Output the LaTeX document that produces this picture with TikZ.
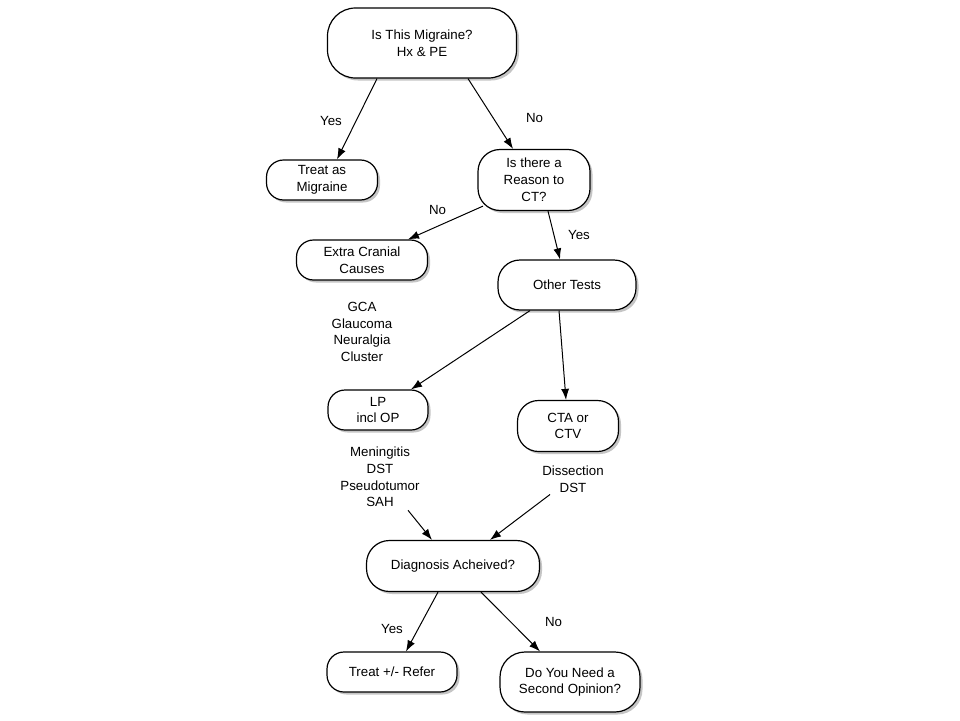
\documentclass[tikz,border=0pt]{standalone}
\usepackage{fontspec}
\setmainfont{Liberation Sans}
\usetikzlibrary{shadows,arrows.meta}
\begin{document}
\begin{tikzpicture}[x=1pt,y=-1pt,
  txt/.style={font=\fontsize{13.3}{16.8}\selectfont, align=center, inner sep=1pt},
  box/.style={txt, draw, line width=1.2pt, fill=white, inner sep=0pt,
    drop shadow={shadow xshift=2.5pt, shadow yshift=-2.5pt, fill=black!45}},
  arr/.style={line width=1pt, -{Latex[length=11pt,width=8pt]}},
  lab/.style={txt}]
\useasboundingbox (0,0) rectangle (960,720);
\fill[white] (0,0) rectangle (960,720);

\node[box, minimum width=189pt, minimum height=70pt, rounded corners=28pt] (top) at (422,43) {Is This Migraine?\\Hx \& PE};
\node[box, minimum width=111pt, minimum height=40pt, rounded corners=17pt] (treat) at (322,180) {Treat as\\Migraine};
\node[box, minimum width=112pt, minimum height=61pt, rounded corners=22pt] (reason) at (534,180) {Is there a\\Reason to\\CT?};
\node[box, minimum width=131pt, minimum height=40pt, rounded corners=17pt] (extra) at (362,260) {Extra Cranial\\Causes};
\node[box, minimum width=138pt, minimum height=50pt, rounded corners=22pt] (other) at (567,285) {Other Tests};
\node[txt] (gca) at (362,332) {GCA\\Glaucoma\\Neuralgia\\Cluster};
\node[box, minimum width=100pt, minimum height=40pt, rounded corners=17pt] (lp) at (378,410) {LP\\incl OP};
\node[box, minimum width=101pt, minimum height=51pt, rounded corners=21pt] (cta) at (568,426) {CTA or\\CTV};
\node[txt] (men) at (380,477) {Meningitis\\DST\\Pseudotumor\\SAH};
\node[txt] (diss) at (573,479) {Dissection\\DST};
\node[box, minimum width=173pt, minimum height=51pt, rounded corners=23pt] (diag) at (453,566) {Diagnosis Acheived?};
\node[box, minimum width=130pt, minimum height=40pt, rounded corners=17pt] (refer) at (392,672) {Treat +/- Refer};
\node[box, minimum width=140pt, minimum height=60pt, rounded corners=25pt] (second) at (570,682) {Do You Need a\\Second Opinion?};

\draw[arr] ([xshift=-45pt]top.south) -- ([xshift=15pt]treat.north)
  node[lab, midway, xshift=-26pt, yshift=-2pt] (l1) {Yes};
\draw[arr] ([xshift=46pt]top.south) -- ([xshift=-21pt]reason.north)
  node[lab, midway, xshift=44pt, yshift=-4pt] (l2) {No};
\draw[arr] ([xshift=-51pt,yshift=5pt]reason.south) -- ([xshift=46pt]extra.north)
  node[lab, midway, xshift=-8pt, yshift=13pt] (l3) {No};
\draw[arr] ([xshift=14pt]reason.south) -- ([xshift=-7pt]other.north)
  node[lab, midway, xshift=25pt] (l4) {Yes};
\draw[arr] ([xshift=-37pt]other.south) -- ([xshift=33pt]lp.north);
\draw[arr] ([xshift=-8pt]other.south) -- ([xshift=-2pt]cta.north);
\draw[arr] ([xshift=28pt,yshift=-2pt]men.south) -- ([xshift=-21pt]diag.north);
\draw[arr] ([xshift=-23pt,yshift=-1pt]diss.south) -- ([xshift=37pt]diag.north);
\draw[arr] ([xshift=-15pt]diag.south) -- ([xshift=14pt]refer.north)
  node[lab, midway, xshift=-30pt, yshift=-7pt] (l5) {Yes};
\draw[arr] ([xshift=28pt]diag.south) -- ([xshift=-30pt]second.north)
  node[lab, midway, xshift=43pt] (l6) {No};
\end{tikzpicture}
\end{document}
